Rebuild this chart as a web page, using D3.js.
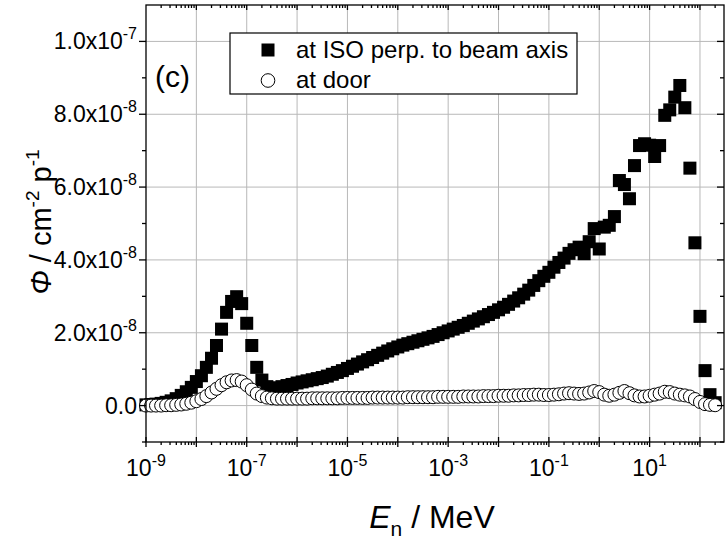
<!DOCTYPE html>
<html>
<head>
<meta charset="utf-8">
<script src="https://cdn.jsdelivr.net/npm/d3@7"></script>
<style>
  html, body { margin: 0; padding: 0; background: #fff; }
  svg { display: block; font-family: "Liberation Sans", Arial, sans-serif; }
</style>
</head>
<body>
<svg id="chart" width="725" height="540"></svg>
<script>
// Neutron energy bins (MeV), ten per decade
const energy = [
  1.00e-9, 1.26e-9, 1.58e-9, 2.00e-9, 2.51e-9, 3.16e-9, 3.98e-9, 5.01e-9, 6.31e-9, 7.94e-9,
  1.00e-8, 1.26e-8, 1.58e-8, 2.00e-8, 2.51e-8, 3.16e-8, 3.98e-8, 5.01e-8, 6.31e-8, 7.94e-8,
  1.00e-7, 1.26e-7, 1.58e-7, 2.00e-7, 2.51e-7, 3.16e-7, 3.98e-7, 5.01e-7, 6.31e-7, 7.94e-7,
  1.00e-6, 1.26e-6, 1.58e-6, 2.00e-6, 2.51e-6, 3.16e-6, 3.98e-6, 5.01e-6, 6.31e-6, 7.94e-6,
  1.00e-5, 1.26e-5, 1.58e-5, 2.00e-5, 2.51e-5, 3.16e-5, 3.98e-5, 5.01e-5, 6.31e-5, 7.94e-5,
  1.00e-4, 1.26e-4, 1.58e-4, 2.00e-4, 2.51e-4, 3.16e-4, 3.98e-4, 5.01e-4, 6.31e-4, 7.94e-4,
  1.00e-3, 1.26e-3, 1.58e-3, 2.00e-3, 2.51e-3, 3.16e-3, 3.98e-3, 5.01e-3, 6.31e-3, 7.94e-3,
  1.00e-2, 1.26e-2, 1.58e-2, 2.00e-2, 2.51e-2, 3.16e-2, 3.98e-2, 5.01e-2, 6.31e-2, 7.94e-2,
  1.00e-1, 1.26e-1, 1.58e-1, 2.00e-1, 2.51e-1, 3.16e-1, 3.98e-1, 5.01e-1, 6.31e-1, 7.94e-1,
  1.00, 1.26, 1.58, 2.00, 2.51, 3.16, 3.98, 5.01, 6.31, 7.94,
  10.0, 12.6, 15.8, 20.0, 25.1, 31.6, 39.8, 50.1, 63.1, 79.4,
  100, 126, 158, 200
];

// Fluence per primary (cm^-2 p^-1) at the isocentre, perpendicular to the beam axis
const fluenceIso = [
  0.02e-8, 0.03e-8, 0.04e-8, 0.06e-8, 0.09e-8, 0.13e-8, 0.19e-8, 0.28e-8, 0.38e-8, 0.50e-8,
  0.66e-8, 0.82e-8, 1.05e-8, 1.30e-8, 1.65e-8, 2.10e-8, 2.56e-8, 2.86e-8, 2.99e-8, 2.80e-8,
  2.26e-8, 1.65e-8, 1.05e-8, 0.70e-8, 0.52e-8, 0.47e-8, 0.49e-8, 0.52e-8, 0.55e-8, 0.58e-8,
  0.62e-8, 0.65e-8, 0.68e-8, 0.71e-8, 0.74e-8, 0.77e-8, 0.81e-8, 0.86e-8, 0.91e-8, 0.96e-8,
  1.02e-8, 1.08e-8, 1.14e-8, 1.20e-8, 1.26e-8, 1.32e-8, 1.38e-8, 1.44e-8, 1.50e-8, 1.56e-8,
  1.61e-8, 1.66e-8, 1.70e-8, 1.74e-8, 1.78e-8, 1.82e-8, 1.86e-8, 1.90e-8, 1.95e-8, 2.00e-8,
  2.05e-8, 2.10e-8, 2.15e-8, 2.20e-8, 2.26e-8, 2.32e-8, 2.38e-8, 2.44e-8, 2.50e-8, 2.56e-8,
  2.63e-8, 2.70e-8, 2.78e-8, 2.87e-8, 2.96e-8, 3.06e-8, 3.17e-8, 3.30e-8, 3.43e-8, 3.55e-8,
  3.66e-8, 3.80e-8, 3.93e-8, 4.05e-8, 4.18e-8, 4.28e-8, 4.35e-8, 4.17e-8, 4.50e-8, 4.86e-8,
  4.30e-8, 4.90e-8, 4.95e-8, 5.19e-8, 6.18e-8, 6.07e-8, 5.68e-8, 6.59e-8, 7.14e-8, 7.19e-8,
  7.15e-8, 6.84e-8, 7.14e-8, 7.97e-8, 8.12e-8, 8.47e-8, 8.79e-8, 8.18e-8, 6.52e-8, 4.47e-8,
  2.45e-8, 0.96e-8, 0.30e-8, 0.08e-8
];

// Fluence per primary (cm^-2 p^-1) at the maze door
const fluenceDoor = [
  0.00e-8, 0.00e-8, 0.00e-8, 0.00e-8, 0.01e-8, 0.01e-8, 0.02e-8, 0.03e-8, 0.05e-8, 0.08e-8,
  0.12e-8, 0.18e-8, 0.26e-8, 0.36e-8, 0.46e-8, 0.56e-8, 0.64e-8, 0.69e-8, 0.70e-8, 0.66e-8,
  0.56e-8, 0.44e-8, 0.33e-8, 0.26e-8, 0.22e-8, 0.20e-8, 0.19e-8, 0.19e-8, 0.19e-8, 0.19e-8,
  0.19e-8, 0.19e-8, 0.19e-8, 0.20e-8, 0.20e-8, 0.20e-8, 0.20e-8, 0.20e-8, 0.20e-8, 0.21e-8,
  0.21e-8, 0.21e-8, 0.21e-8, 0.21e-8, 0.21e-8, 0.22e-8, 0.22e-8, 0.22e-8, 0.22e-8, 0.22e-8,
  0.22e-8, 0.22e-8, 0.23e-8, 0.23e-8, 0.23e-8, 0.23e-8, 0.23e-8, 0.23e-8, 0.24e-8, 0.24e-8,
  0.24e-8, 0.24e-8, 0.24e-8, 0.25e-8, 0.25e-8, 0.25e-8, 0.25e-8, 0.26e-8, 0.26e-8, 0.26e-8,
  0.27e-8, 0.27e-8, 0.27e-8, 0.28e-8, 0.28e-8, 0.29e-8, 0.29e-8, 0.30e-8, 0.30e-8, 0.29e-8,
  0.29e-8, 0.30e-8, 0.31e-8, 0.33e-8, 0.34e-8, 0.33e-8, 0.32e-8, 0.33e-8, 0.36e-8, 0.40e-8,
  0.37e-8, 0.30e-8, 0.27e-8, 0.30e-8, 0.35e-8, 0.40e-8, 0.34e-8, 0.28e-8, 0.25e-8, 0.25e-8,
  0.27e-8, 0.30e-8, 0.33e-8, 0.38e-8, 0.37e-8, 0.33e-8, 0.30e-8, 0.28e-8, 0.25e-8, 0.18e-8,
  0.10e-8, 0.04e-8, 0.02e-8, 0.01e-8
];

// Axis ticks
const xGridTicks = [1e-8, 1e-7, 1e-6, 1e-5, 1e-4, 1e-3, 1e-2, 1e-1, 1e0, 1e1, 1e2];
const xLabelExponents = [-9, -7, -5, -3, -1, 1];
const yMajorTicks = [0, 2e-8, 4e-8, 6e-8, 8e-8, 1e-7];
const yTickLabels = [
  { base: "0.0", exp: "" },
  { base: "2.0x10", exp: "-8" },
  { base: "4.0x10", exp: "-8" },
  { base: "6.0x10", exp: "-8" },
  { base: "8.0x10", exp: "-8" },
  { base: "1.0x10", exp: "-7" }
];
const yMinorTicks = [-1e-8, 1e-8, 3e-8, 5e-8, 7e-8, 9e-8];
const legendLabels = ["at ISO perp. to beam axis", "at door"];

const svg = d3.select("#chart");
const plot = { left: 146, right: 724, top: 5, bottom: 442 };

const x = d3.scaleLog().domain([1e-9, 3e2]).range([plot.left, plot.right]);
const y = d3.scaleLinear().domain([-1e-8, 1.1e-7]).range([plot.bottom, plot.top]);

// Minor x ticks: 2..9 within every decade
const xMinor = [];
for (let e = -9; e <= 2; e++) {
  for (let m = 2; m <= 9; m++) {
    const v = m * Math.pow(10, e);
    if (v < x.domain()[1]) xMinor.push(v);
  }
}

const gridColor = "#b8b8b8";
const grid = svg.append("g");
grid.selectAll("line.vx").data(xGridTicks).join("line")
  .attr("x1", d => x(d)).attr("x2", d => x(d))
  .attr("y1", plot.top).attr("y2", plot.bottom)
  .attr("stroke", gridColor).attr("stroke-width", 1);
grid.selectAll("line.hy").data(yMajorTicks).join("line")
  .attr("x1", plot.left).attr("x2", plot.right)
  .attr("y1", d => y(d)).attr("y2", d => y(d))
  .attr("stroke", gridColor).attr("stroke-width", 1);

// Data markers
const isoData = energy.map((e, i) => ({ e, v: fluenceIso[i] }));
const doorData = energy.map((e, i) => ({ e, v: fluenceDoor[i] }));
const sq = 13;
const marks = svg.append("g");
marks.selectAll("rect").data(isoData).join("rect")
  .attr("x", d => x(d.e) - sq / 2).attr("y", d => y(d.v) - sq / 2)
  .attr("width", sq).attr("height", sq).attr("fill", "#000");
marks.selectAll("circle").data(doorData).join("circle")
  .attr("cx", d => x(d.e)).attr("cy", d => y(d.v)).attr("r", 6.5)
  .attr("fill", "#fff").attr("stroke", "#000").attr("stroke-width", 1);

// Frame
const axes = svg.append("g").attr("stroke", "#000").attr("stroke-width", 1.3);
axes.append("rect")
  .attr("x", plot.left).attr("y", plot.top)
  .attr("width", plot.right - plot.left).attr("height", plot.bottom - plot.top)
  .attr("fill", "none");

// Bottom axis ticks: majors cross the line, minors hang outside
axes.selectAll("line.bmaj").data([1e-9, ...xGridTicks]).join("line")
  .attr("x1", d => x(d)).attr("x2", d => x(d))
  .attr("y1", plot.bottom - 5).attr("y2", plot.bottom + 5);
axes.selectAll("line.bmin").data(xMinor).join("line")
  .attr("x1", d => x(d)).attr("x2", d => x(d))
  .attr("y1", plot.bottom).attr("y2", plot.bottom + 3);
// Top axis ticks point inward
axes.selectAll("line.tmaj").data(xGridTicks).join("line")
  .attr("x1", d => x(d)).attr("x2", d => x(d))
  .attr("y1", plot.top).attr("y2", plot.top + 5);
axes.selectAll("line.tmin").data(xMinor).join("line")
  .attr("x1", d => x(d)).attr("x2", d => x(d))
  .attr("y1", plot.top).attr("y2", plot.top + 3);
// Left axis ticks point outward
axes.selectAll("line.lmaj").data(yMajorTicks).join("line")
  .attr("x1", plot.left - 7).attr("x2", plot.left)
  .attr("y1", d => y(d)).attr("y2", d => y(d));
axes.selectAll("line.lmin").data(yMinorTicks).join("line")
  .attr("x1", plot.left - 4).attr("x2", plot.left)
  .attr("y1", d => y(d)).attr("y2", d => y(d));
// Right axis ticks point inward
axes.selectAll("line.rmaj").data(yMajorTicks).join("line")
  .attr("x1", plot.right - 7).attr("x2", plot.right)
  .attr("y1", d => y(d)).attr("y2", d => y(d));
axes.selectAll("line.rmin").data(yMinorTicks).join("line")
  .attr("x1", plot.right - 4).attr("x2", plot.right)
  .attr("y1", d => y(d)).attr("y2", d => y(d));

// Tick labels
const tickFont = 23, supFont = 16;
const yl = svg.append("g").attr("font-size", tickFont).attr("fill", "#000");
yMajorTicks.forEach((t, i) => {
  const txt = yl.append("text")
    .attr("x", plot.left - 9).attr("y", y(t) + 8)
    .attr("text-anchor", "end");
  txt.append("tspan").text(yTickLabels[i].base);
  if (yTickLabels[i].exp) {
    txt.append("tspan").attr("font-size", supFont).attr("dy", -10).text(yTickLabels[i].exp);
  }
});

const xl = svg.append("g").attr("font-size", tickFont).attr("fill", "#000");
xLabelExponents.forEach(ex => {
  const txt = xl.append("text")
    .attr("x", x(Math.pow(10, ex))).attr("y", plot.bottom + 34)
    .attr("text-anchor", "middle");
  txt.append("tspan").text("10");
  txt.append("tspan").attr("font-size", supFont).attr("dy", -10).text(ex);
});

// Axis titles
const xt = svg.append("text")
  .attr("x", 432).attr("y", 528).attr("text-anchor", "middle")
  .attr("font-size", 32).attr("fill", "#000");
xt.append("tspan").attr("font-style", "italic").text("E");
xt.append("tspan").attr("font-size", 21).attr("dy", 8).text("n");
xt.append("tspan").attr("dy", -8).text(" / MeV");

const yt = svg.append("text")
  .attr("transform", "translate(51,222) rotate(-90)")
  .attr("text-anchor", "middle").attr("font-size", 29).attr("fill", "#000");
yt.append("tspan").attr("font-style", "italic").text("Φ");
yt.append("tspan").text(" / cm");
yt.append("tspan").attr("font-size", 19).attr("dy", -12).text("-2");
yt.append("tspan").attr("dy", 12).text(" p");
yt.append("tspan").attr("font-size", 19).attr("dy", -12).text("-1");

// Panel label
svg.append("text").attr("x", 155).attr("y", 87)
  .attr("font-size", 30).attr("fill", "#000").text("(c)");

// Legend
const lg = svg.append("g");
lg.append("rect").attr("x", 230).attr("y", 33).attr("width", 347).attr("height", 61)
  .attr("fill", "#fff").attr("stroke", "#000").attr("stroke-width", 1.2);
lg.append("rect").attr("x", 268 - 6.5).attr("y", 50 - 6.5).attr("width", 13).attr("height", 13)
  .attr("fill", "#000");
lg.append("circle").attr("cx", 268).attr("cy", 80.5).attr("r", 6.8)
  .attr("fill", "#fff").attr("stroke", "#000").attr("stroke-width", 1);
legendLabels.forEach((t, i) => {
  lg.append("text").attr("x", 296).attr("y", 58 + i * 30)
    .attr("font-size", 24).attr("fill", "#000").text(t);
});
</script>
</body>
</html>
